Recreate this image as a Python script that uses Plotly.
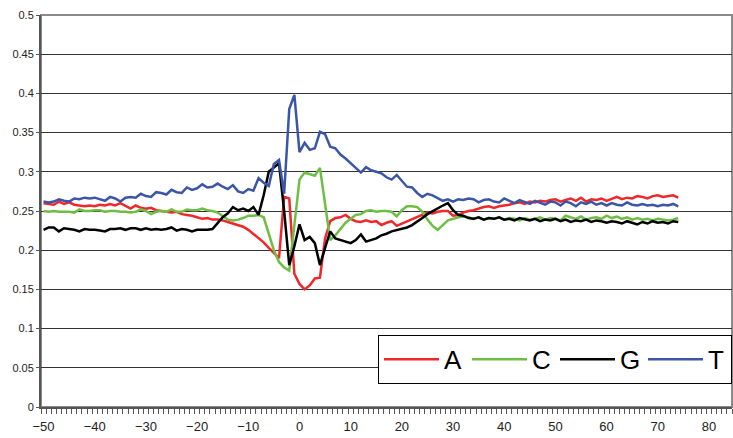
import plotly.graph_objects as go

positions = list(range(-50, 75))

series_A = [
    0.260, 0.259, 0.258, 0.262, 0.259, 0.261, 0.258, 0.257, 0.256, 0.257,
    0.256, 0.258, 0.257, 0.259, 0.257, 0.260, 0.256, 0.253, 0.257, 0.254,
    0.253, 0.254, 0.251, 0.250, 0.249, 0.248, 0.249, 0.246, 0.245, 0.244,
    0.242, 0.240, 0.241, 0.239, 0.239, 0.238, 0.236, 0.234, 0.232, 0.230,
    0.226, 0.221, 0.215, 0.210, 0.203, 0.196, 0.190, 0.268, 0.266, 0.170,
    0.157, 0.150, 0.155, 0.164, 0.165, 0.215, 0.237, 0.241, 0.242, 0.245,
    0.240, 0.237, 0.236, 0.238, 0.236, 0.237, 0.232, 0.235, 0.237, 0.231,
    0.234, 0.236, 0.239, 0.242, 0.245, 0.248, 0.247, 0.249, 0.250, 0.250,
    0.244, 0.245, 0.248, 0.250, 0.251, 0.253, 0.255, 0.256, 0.254, 0.256,
    0.257, 0.258, 0.260, 0.261, 0.259, 0.262, 0.261, 0.263, 0.262, 0.264,
    0.265, 0.262, 0.264, 0.266, 0.263, 0.267, 0.262, 0.265, 0.264, 0.266,
    0.263, 0.266, 0.268, 0.265, 0.267, 0.266, 0.269, 0.268, 0.266, 0.269,
    0.270, 0.268, 0.269, 0.270, 0.267,
]

series_C = [
    0.250, 0.249, 0.250, 0.249, 0.249, 0.249, 0.248, 0.252, 0.250, 0.250,
    0.251, 0.251, 0.249, 0.250, 0.250, 0.249, 0.249, 0.248, 0.249, 0.252,
    0.250, 0.246, 0.249, 0.250, 0.249, 0.252, 0.249, 0.249, 0.252, 0.251,
    0.251, 0.253, 0.251, 0.250, 0.248, 0.243, 0.239, 0.238, 0.239, 0.241,
    0.244, 0.244, 0.245, 0.242, 0.222, 0.200, 0.185, 0.178, 0.174, 0.232,
    0.290, 0.299, 0.297, 0.295, 0.305, 0.260, 0.213, 0.219, 0.227, 0.235,
    0.240, 0.245, 0.246, 0.250, 0.251, 0.249, 0.250, 0.250, 0.249, 0.243,
    0.251, 0.256, 0.256, 0.255, 0.249, 0.239, 0.231, 0.226, 0.232, 0.238,
    0.240, 0.242, 0.243, 0.242, 0.240, 0.242, 0.239, 0.241, 0.240, 0.242,
    0.239, 0.241, 0.240, 0.238, 0.241, 0.239, 0.240, 0.242, 0.239, 0.241,
    0.240, 0.238, 0.244, 0.242, 0.240, 0.243, 0.239, 0.241, 0.242, 0.240,
    0.244, 0.241, 0.243, 0.240, 0.242, 0.239, 0.241, 0.239, 0.240, 0.238,
    0.240, 0.239, 0.238, 0.239, 0.241,
]

series_G = [
    0.226, 0.229, 0.229, 0.224, 0.228, 0.227, 0.226, 0.224, 0.227, 0.226,
    0.226, 0.225, 0.224, 0.227, 0.227, 0.228, 0.226, 0.228, 0.228, 0.226,
    0.228, 0.226, 0.227, 0.226, 0.227, 0.229, 0.225, 0.227, 0.226, 0.224,
    0.226, 0.226, 0.226, 0.227, 0.235, 0.242, 0.247, 0.255, 0.251, 0.253,
    0.250, 0.255, 0.245, 0.270, 0.300, 0.305, 0.311, 0.250, 0.181, 0.205,
    0.233, 0.213, 0.217, 0.209, 0.181, 0.203, 0.224, 0.215, 0.213, 0.211,
    0.209, 0.213, 0.220, 0.211, 0.213, 0.215, 0.219, 0.221, 0.224, 0.226,
    0.228, 0.229, 0.232, 0.236, 0.241, 0.246, 0.250, 0.253, 0.257, 0.260,
    0.251, 0.245, 0.244, 0.241, 0.240, 0.242, 0.239, 0.241, 0.240, 0.242,
    0.239, 0.240, 0.238, 0.241, 0.239, 0.238, 0.240, 0.237, 0.239, 0.238,
    0.240, 0.237, 0.239, 0.236, 0.238, 0.237, 0.239, 0.236, 0.238, 0.237,
    0.235, 0.237, 0.236, 0.234, 0.237, 0.235, 0.233, 0.236, 0.234, 0.237,
    0.235, 0.236, 0.234, 0.237, 0.236,
]

series_T = [
    0.262, 0.261, 0.262, 0.265, 0.263, 0.262, 0.266, 0.265, 0.267, 0.266,
    0.267, 0.265, 0.263, 0.268, 0.266, 0.262, 0.267, 0.268, 0.267, 0.272,
    0.269, 0.268, 0.274, 0.273, 0.271, 0.277, 0.274, 0.273, 0.280, 0.277,
    0.279, 0.284, 0.280, 0.281, 0.285, 0.281, 0.278, 0.283, 0.275, 0.273,
    0.278, 0.276, 0.292, 0.286, 0.282, 0.310, 0.315, 0.272, 0.380, 0.398,
    0.325, 0.337, 0.328, 0.330, 0.351, 0.348, 0.332, 0.330, 0.322, 0.317,
    0.311, 0.305, 0.299, 0.306, 0.302, 0.300, 0.298, 0.293, 0.290, 0.296,
    0.288, 0.281, 0.280, 0.273, 0.268, 0.272, 0.270, 0.267, 0.263, 0.265,
    0.262, 0.265, 0.264, 0.266, 0.265, 0.261, 0.264, 0.265, 0.262, 0.261,
    0.266, 0.263, 0.260, 0.264, 0.262, 0.259, 0.263, 0.261, 0.258, 0.262,
    0.261, 0.257, 0.262, 0.260, 0.256, 0.261, 0.259, 0.262, 0.258, 0.260,
    0.257, 0.260, 0.258, 0.257, 0.261, 0.258, 0.257, 0.259, 0.257, 0.258,
    0.256, 0.258, 0.257, 0.259, 0.256,
]

series_names = ["A", "C", "G", "T"]
series_colors = ["#f0282a", "#6fbe44", "#000000", "#3b56a6"]
series_values = [series_A, series_C, series_G, series_T]

FONT = "Liberation Sans, Arial, sans-serif"

fig = go.Figure()
for name, color, vals in zip(series_names, series_colors, series_values):
    fig.add_trace(go.Scatter(
        x=positions, y=vals, mode="lines", name=name,
        line=dict(color=color, width=2.5),
    ))

fig.update_layout(
    width=733, height=438,
    margin=dict(l=41, r=1, t=15, b=31, autoexpand=False),
    paper_bgcolor="white", plot_bgcolor="white",
    font=dict(family=FONT, color="#222"),
    showlegend=True,
    legend=dict(
        orientation="h",
        x=0.4877, xanchor="left",
        y=0.059, yanchor="bottom",
        bgcolor="white", bordercolor="#000", borderwidth=1,
        font=dict(size=26, family=FONT, color="#000"),
        itemwidth=55,
        entrywidth=18, entrywidthmode="pixels",
        tracegroupgap=0,
    ),
    shapes=[dict(type="rect", xref="paper", yref="paper", x0=0, y0=0, x1=1, y1=1,
                 line=dict(color="#8a8a8a", width=2), layer="below")],
)

fig.update_xaxes(
    range=[-50.5, 84.5],
    tickmode="linear", tick0=-50, dtick=10,
    ticks="", showgrid=False, zeroline=False,
    showline=True, linecolor="#555", linewidth=2,
    tickfont=dict(size=13, family=FONT, color="#222"),
    ticklabelstandoff=6,
    minor=dict(ticks="outside", tick0=-50.5, dtick=1, ticklen=5, tickcolor="#555", tickwidth=1, showgrid=False),
)
fig.update_yaxes(
    range=[0, 0.5],
    tickmode="linear", tick0=0, dtick=0.05,
    ticks="outside", ticklen=3, tickcolor="#555",
    showgrid=True, gridcolor="#333", gridwidth=1,
    zeroline=False,
    showline=True, linecolor="#555", linewidth=2,
    tickfont=dict(size=11, family=FONT, color="#222"),
)

fig.write_html("out.html")
